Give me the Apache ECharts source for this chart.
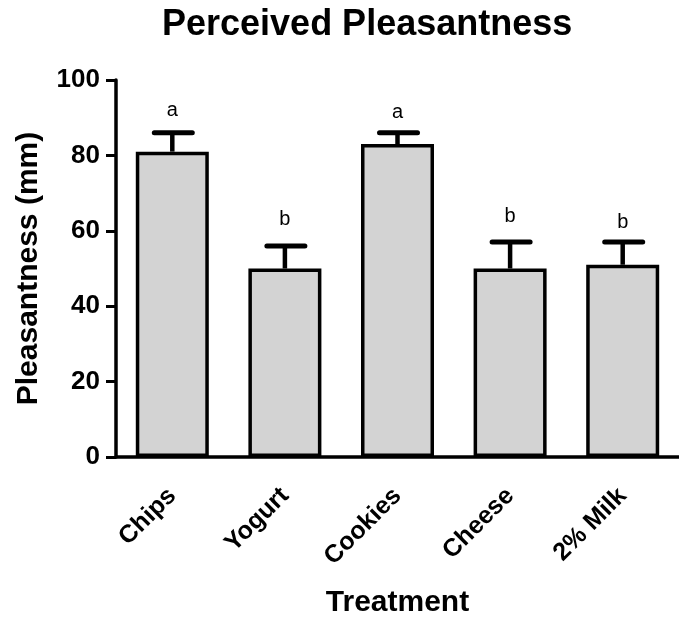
<!DOCTYPE html>
<html><head><meta charset="utf-8">
<script src="https://cdn.jsdelivr.net/npm/echarts@6/dist/echarts.min.js"></script>
<style>html,body{margin:0;padding:0;background:#fff}#c{width:679px;height:623px}</style>
</head><body><div id="c"></div>
<script>
const categories = ['Chips', 'Yogurt', 'Cookies', 'Cheese', '2% Milk'];
const means = [81, 50, 83, 50, 51];
const errors = [5, 6, 3, 7, 6];
const letters = ['a', 'b', 'a', 'b', 'b'];
const letterY = [91.8, 63, 91.5, 63.8, 62.3];
const yTicks = [0, 20, 40, 60, 80, 100];

const FF = '"Liberation Sans", Arial, sans-serif';
const chart = echarts.init(document.getElementById('c'));
chart.setOption({
  animation: false,
  title: {
    text: 'Perceived Pleasantness', left: 157, top: 2,
    textStyle: { fontFamily: FF, fontSize: 36, fontWeight: 'bold', color: '#000' }
  },
  grid: { left: 116, top: 80, bottom: 164, width: 571, containLabel: false },
  xAxis: {
    type: 'category', data: categories,
    name: 'Treatment', nameLocation: 'middle', nameGap: 131,
    nameTextStyle: { fontFamily: FF, fontSize: 30, fontWeight: 'bold', color: '#000' },
    axisLine: { lineStyle: { color: '#000', width: 3.5 } },
    axisTick: { alignWithLabel: true, length: 10, lineStyle: { color: '#000', width: 3 } },
    axisLabel: { rotate: 45, margin: 35, fontFamily: FF, fontSize: 25, fontWeight: 'bold', color: '#000', interval: 0 }
  },
  yAxis: {
    type: 'value', min: yTicks[0], max: yTicks[yTicks.length - 1], interval: 20,
    name: 'Pleasantness (mm)', nameLocation: 'middle', nameGap: 72, nameRotate: 90,
    nameTextStyle: { fontFamily: FF, fontSize: 30, fontWeight: 'bold', color: '#000' },
    axisLine: { show: true, lineStyle: { color: '#000', width: 3.5 } },
    axisTick: { show: true, length: 10, lineStyle: { color: '#000', width: 3 } },
    axisLabel: { margin: 16, fontFamily: FF, fontSize: 26, fontWeight: 'bold', color: '#000' },
    splitLine: { show: false }
  },
  series: [
    {
      type: 'bar', data: means, barWidth: 73, z: 2,
      itemStyle: { color: '#d3d3d3', borderColor: '#000', borderWidth: 3.5 }
    },
    {
      type: 'custom', z: 1,
      data: means.map((m, i) => [i, m, m + errors[i]]),
      renderItem: function (params, api) {
        const x = api.coord([api.value(0), api.value(1)])[0];
        const y0 = api.coord([api.value(0), api.value(1)])[1];
        const y1 = api.coord([api.value(0), api.value(2)])[1];
        return {
          type: 'group', children: [
            { type: 'line', shape: { x1: x, y1: y0, x2: x, y2: y1 }, style: { stroke: '#000', lineWidth: 4.5 } },
            { type: 'line', shape: { x1: x - 18, y1: y1, x2: x + 20, y2: y1 }, style: { stroke: '#000', lineWidth: 5, lineCap: 'round' } }
          ]
        };
      }
    },
    {
      type: 'custom', z: 3,
      data: letterY.map((v, i) => [i, v]),
      renderItem: function (params, api) {
        const p = api.coord([api.value(0), api.value(1)]);
        return {
          type: 'text', x: p[0], y: p[1],
          style: { text: letters[params.dataIndex], fontFamily: FF, fontSize: 20, fill: '#000', align: 'center', verticalAlign: 'middle' }
        };
      }
    }
  ]
});
</script></body></html>
